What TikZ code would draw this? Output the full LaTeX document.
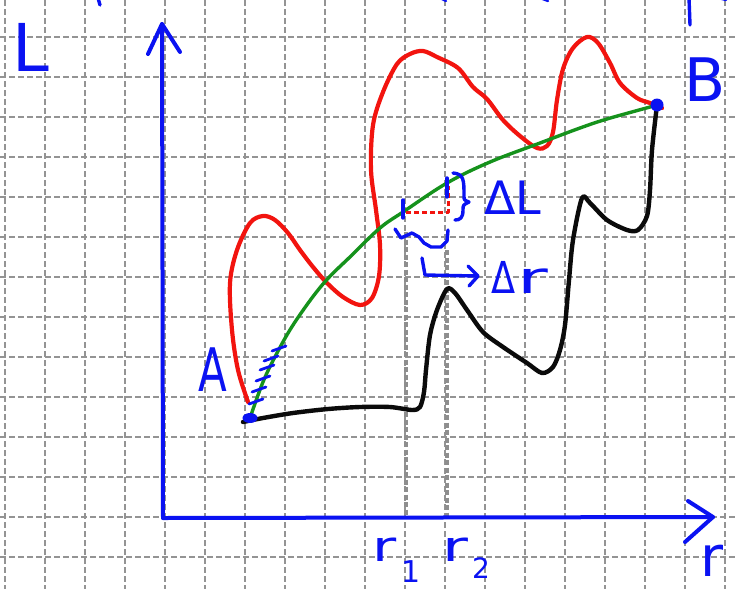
\documentclass[tikz,border=0pt]{standalone}
\usepackage{fontspec}
\setmainfont{DejaVu Sans}
\definecolor{gridgray}{HTML}{949494}
\definecolor{penblue}{HTML}{0A12F2}
\definecolor{penred}{HTML}{F2140F}
\definecolor{pengreen}{HTML}{15921C}
\definecolor{penblack}{HTML}{0B0B0B}
\definecolor{markgray}{HTML}{8E8E8E}

\begin{document}
\begin{tikzpicture}[
  x=1pt,
  y=-1pt,
  line join=round,
  line cap=round,
  gridline/.style={draw=gridgray,line width=1.6pt,line cap=butt,dash pattern=on 5.5pt off 3.5pt},
  axis/.style={draw=penblue,line width=4pt},
  bluepen/.style={draw=penblue,line width=3.4pt},
  redpath/.style={draw=penred,line width=4.2pt},
  greenpath/.style={draw=pengreen,line width=3.4pt},
  blackpath/.style={draw=penblack,line width=4.4pt},
  stepline/.style={draw=penred,line width=3pt,line cap=butt,dash pattern=on 5pt off 3pt},
  radline/.style={draw=markgray,line width=3.6pt,line cap=butt,dash pattern=on 5pt off 2.5pt},
  hand/.style={text=penblue,inner sep=0pt}
]
  % Match the page of squared paper.
  \useasboundingbox (0,0) rectangle (735,589);

  % Squared paper.
  \foreach \gx in {5,45,...,725} {
    \draw[gridline] (\gx,0) -- (\gx,589);
  }
  \foreach \gy in {37,77,...,557} {
    \draw[gridline] (0,\gy) -- (735,\gy);
  }

  % Axes and end points.
  \coordinate (origin) at (163,518);
  \coordinate (ytop) at (162,24);
  \coordinate (xend) at (713,517);
  \coordinate (ptA) at (250,418);
  \coordinate (ptB) at (657,105);

  % Radii r1 and r2 read off on the axis.
  \coordinate (r1top) at (406,232);
  \coordinate (r2top) at (447,250);
  \draw[radline] (r1top) -- (r1top |- origin);
  \draw[radline] (r2top) -- (r2top |- origin);

  \draw[axis] (origin) -- (ytop);
  \draw[axis] (148,54) -- (ytop) -- (180,52);
  \draw[axis] (origin) -- (xend);
  \draw[axis] (688,501) -- (xend) -- (685,542);

  % Red path: long way round.
  \draw[redpath] plot[smooth,tension=0.55] coordinates {
    (248,402) (238,370) (232,330) (230,283) (237,250) (250,223) (263,216)
    (275,220) (288,233) (300,250) (313,267) (327,283) (343,297) (360,305)
    (372,298) (379,276) (380,245) (376,210) (371,170) (373,125) (383,92)
    (397,64) (410,54) (423,51) (437,57) (458,68) (473,87) (487,99)
    (503,120) (520,136) (537,148) (547,146) (553,132) (557,100) (563,69)
    (573,48) (587,37) (598,43) (610,63) (620,83) (637,98) (650,103) (662,108)};

  % Black path: staircase.
  \draw[blackpath] plot[smooth,tension=0.5] coordinates {
    (243,422) (263,418) (293,413) (328,409) (360,407) (390,407) (412,410)
    (420,407) (424,392) (426,370) (430,335) (437,310) (447,289) (455,293)
    (467,310) (483,332) (503,347) (527,363) (542,373) (553,367) (560,350)
    (565,325) (569,280) (573,240) (582,198) (590,203) (607,220) (627,230)
    (638,230) (647,216) (650,190) (652,150) (ptB)};

  % Green path: the smooth one.
  \draw[greenpath] plot[smooth,tension=0.6] coordinates {
    (ptA) (263,382) (277,353) (295,322) (323,284) (352,255) (380,228)
    (403,212) (447,183) (490,162) (540,143) (580,128) (607,119) (650,107) (ptB)};

  % Small steps along the green path near A.
  \foreach \hx/\hy in {256/402,259/390,263/379,267/368,271/359,279/349} {
    \draw[bluepen,line width=2.8pt] (\hx-7,\hy+2) -- (\hx+7,\hy-3);
  }

  % One step: dL and dr.
  \coordinate (stepL) at (406,212);
  \coordinate (stepR) at (448,212);
  \coordinate (stepT) at (448,186);
  \draw[stepline] (stepL) -- (stepR) -- (stepT);
  \draw[bluepen] (403,200) -- (403,218);
  \draw[bluepen] (447,178) -- (447,197);
  \draw[bluepen] (453,173) .. controls (464,174) and (464,180) .. (464,196)
    .. controls (464,200) .. (469,202) .. controls (463,205) .. (463,210)
    .. controls (463,218) and (460,220) .. (455,220);
  \draw[bluepen] (395,229) -- (401,238) -- (412,233) -- (419,237) -- (424,243)
    -- (431,247) -- (441,247) -- (447,241) -- (448,230);
  \coordinate (drtip) at (478,276);
  \draw[bluepen] (422,258) -- (425,275) -- (drtip);
  \draw[bluepen] (468,266) -- (drtip) -- (469,286);

  % End points A and B.
  \fill[penblue] (ptA) ellipse[x radius=7.5pt,y radius=5pt];
  \fill[penblue] (ptB) circle[radius=6.5pt];

  % Fragments of the line of writing above.
  \draw[bluepen] (689,-2) -- (690,25);
  \draw[bluepen] (98,-2) -- (100,5);
  \draw[bluepen,line width=2.4pt] (440,-2) -- (446,1);
  \draw[bluepen,line width=2.4pt] (540,-2) -- (548,1);
  \draw[bluepen,line width=2.4pt] (718,-2) -- (726,0);

  % Labels.
  \node[hand,font=\fontsize{66}{66}\selectfont] (labL) at (31,47) {L};
  \node[hand,font=\fontsize{60}{60}\selectfont] (labB) at (705,80) {B};
  \node[hand,font=\fontsize{60}{60}\selectfont] (labA) at (213,370) {\scalebox{0.7}[1]{A}};
  \node[hand,font=\fontsize{46}{46}\selectfont,anchor=base west] (labdL) at (484,214) {ΔL};
  \node[hand,font=\fontsize{44}{44}\selectfont,anchor=base west] (labdr) at (491,293)
    {\scalebox{0.8}[1]{Δ}\hspace{2pt}\scalebox{1.7}[1]{r}};
  \node[hand,font=\fontsize{42}{42}\selectfont,anchor=base west] (labr1) at (372,561)
    {\scalebox{1.4}[1]{r}\hspace{5pt}\raisebox{-21pt}{\fontsize{30}{30}\selectfont 1}};
  \node[hand,font=\fontsize{42}{42}\selectfont,anchor=base west] (labr2) at (442,561)
    {\scalebox{1.5}[1]{r}\hspace{4pt}\raisebox{-17pt}{\fontsize{28}{28}\selectfont 2}};
  \node[hand,font=\fontsize{56}{56}\selectfont,anchor=base west] (labr) at (700,576) {r};
\end{tikzpicture}
\end{document}
